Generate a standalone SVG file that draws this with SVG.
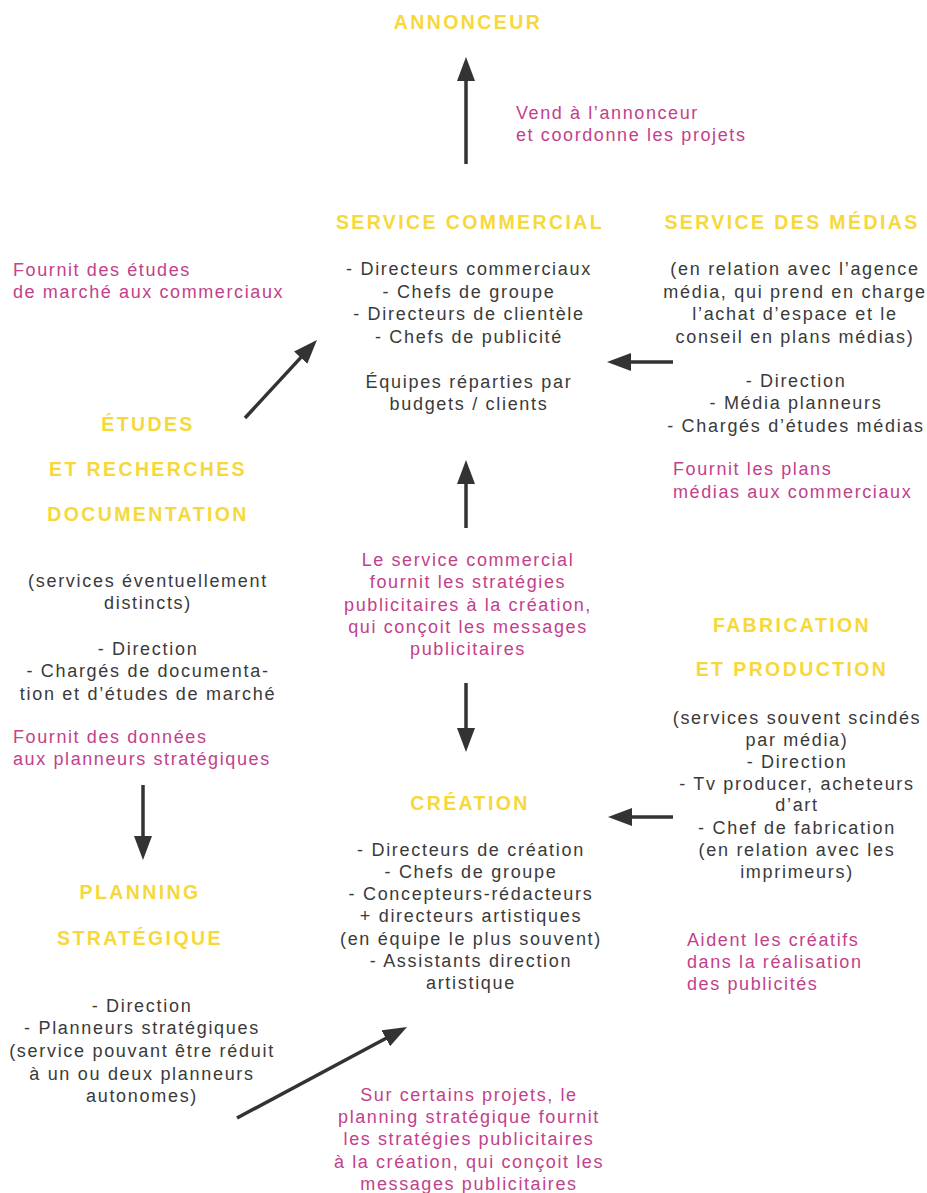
<svg xmlns="http://www.w3.org/2000/svg" width="927" height="1193" viewBox="0 0 927 1193">
<style>
text{font-family:"Liberation Sans",Arial,sans-serif}
.h{font-size:19.5px;font-weight:bold;fill:#f7d83a;letter-spacing:2.4px;text-anchor:middle}
.b{font-size:18px;fill:#3a3a3a;letter-spacing:1.7px;text-anchor:middle}
.m{font-size:18px;fill:#c2418b;letter-spacing:1.6px}
.mc{text-anchor:middle}
.ar{stroke:#333;stroke-width:3.5;fill:none;marker-end:url(#ah)}
</style>
<defs>
<marker id="ah" markerUnits="userSpaceOnUse" markerWidth="24" markerHeight="18" refX="13" refY="9" orient="auto" viewBox="0 0 24 18">
<path d="M0,0 L24,9 L0,18 z" fill="#333"/>
</marker>
</defs>
<rect width="927" height="1193" fill="#fff"/>

<g id="annonceur">
<text class="h" x="468" y="29">ANNONCEUR</text>
</g>

<g id="service-commercial">
<text class="h" x="470" y="229">SERVICE COMMERCIAL</text>
<text class="b" x="469" y="275">- Directeurs commerciaux</text>
<text class="b" x="469" y="298">- Chefs de groupe</text>
<text class="b" x="469" y="320">- Directeurs de clientèle</text>
<text class="b" x="469" y="343">- Chefs de publicité</text>
<text class="b" x="469" y="388">Équipes réparties par</text>
<text class="b" x="469" y="410">budgets / clients</text>
</g>

<g id="service-medias">
<text class="h" x="792" y="229">SERVICE DES MÉDIAS</text>
<text class="b" x="795" y="275">(en relation avec l’agence</text>
<text class="b" x="795" y="298">média, qui prend en charge</text>
<text class="b" x="795" y="320">l’achat d’espace et le</text>
<text class="b" x="795" y="343">conseil en plans médias)</text>
<text class="b" x="796" y="387">- Direction</text>
<text class="b" x="796" y="409">- Média planneurs</text>
<text class="b" x="796" y="432">- Chargés d’études médias</text>
</g>

<g id="etudes">
<text class="h" x="148" y="431">ÉTUDES</text>
<text class="h" x="148" y="476">ET RECHERCHES</text>
<text class="h" x="148" y="521">DOCUMENTATION</text>
<text class="b" x="148" y="587">(services éventuellement</text>
<text class="b" x="148" y="609">distincts)</text>
<text class="b" x="148" y="655">- Direction</text>
<text class="b" x="148" y="677">- Chargés de documenta-</text>
<text class="b" x="148" y="700">tion et d’études de marché</text>
</g>

<g id="planning">
<text class="h" x="140" y="899">PLANNING</text>
<text class="h" x="140" y="945">STRATÉGIQUE</text>
<text class="b" x="142" y="1012">- Direction</text>
<text class="b" x="142" y="1034">- Planneurs stratégiques</text>
<text class="b" x="142" y="1057">(service pouvant être réduit</text>
<text class="b" x="142" y="1080">à un ou deux planneurs</text>
<text class="b" x="142" y="1102">autonomes)</text>
</g>

<g id="creation">
<text class="h" x="470" y="810">CRÉATION</text>
<text class="b" x="471" y="856">- Directeurs de création</text>
<text class="b" x="471" y="878">- Chefs de groupe</text>
<text class="b" x="471" y="900">- Concepteurs-rédacteurs</text>
<text class="b" x="471" y="922">+ directeurs artistiques</text>
<text class="b" x="471" y="945">(en équipe le plus souvent)</text>
<text class="b" x="471" y="967">- Assistants direction</text>
<text class="b" x="471" y="989">artistique</text>
</g>

<g id="fabrication">
<text class="h" x="792" y="632">FABRICATION</text>
<text class="h" x="792" y="676">ET PRODUCTION</text>
<text class="b" x="797" y="724">(services souvent scindés</text>
<text class="b" x="797" y="746">par média)</text>
<text class="b" x="797" y="768">- Direction</text>
<text class="b" x="797" y="790">- Tv producer, acheteurs</text>
<text class="b" x="797" y="811">d’art</text>
<text class="b" x="797" y="834">- Chef de fabrication</text>
<text class="b" x="797" y="856">(en relation avec les</text>
<text class="b" x="797" y="878">imprimeurs)</text>
</g>

<g id="connectors">
<line class="ar" x1="466" y1="164" x2="466" y2="68"/>
<line class="ar" x1="673" y1="362" x2="618" y2="362"/>
<line class="ar" x1="245" y1="418" x2="309.5" y2="348.1"/>
<line class="ar" x1="143" y1="785" x2="143" y2="849"/>
<line class="ar" x1="466" y1="528" x2="466" y2="471"/>
<line class="ar" x1="466" y1="683" x2="466" y2="741"/>
<line class="ar" x1="673" y1="817" x2="619" y2="817"/>
<line class="ar" x1="237" y1="1118" x2="397.3" y2="1032.2"/>
</g>

<g id="labels">
<text class="m" x="516" y="119">Vend à l’annonceur</text>
<text class="m" x="516" y="141">et coordonne les projets</text>
<text class="m" x="13" y="276">Fournit des études</text>
<text class="m" x="13" y="298">de marché aux commerciaux</text>
<text class="m" x="673" y="475">Fournit les plans</text>
<text class="m" x="673" y="498">médias aux commerciaux</text>
<text class="m" x="13" y="743">Fournit des données</text>
<text class="m" x="13" y="765">aux planneurs stratégiques</text>
<text class="m mc" x="468" y="566">Le service commercial</text>
<text class="m mc" x="468" y="588">fournit les stratégies</text>
<text class="m mc" x="468" y="611">publicitaires à la création,</text>
<text class="m mc" x="468" y="633">qui conçoit les messages</text>
<text class="m mc" x="468" y="655">publicitaires</text>
<text class="m" x="687" y="946">Aident les créatifs</text>
<text class="m" x="687" y="968">dans la réalisation</text>
<text class="m" x="687" y="990">des publicités</text>
<text class="m mc" x="469" y="1101">Sur certains projets, le</text>
<text class="m mc" x="469" y="1123">planning stratégique fournit</text>
<text class="m mc" x="469" y="1145">les stratégies publicitaires</text>
<text class="m mc" x="469" y="1168">à la création, qui conçoit les</text>
<text class="m mc" x="469" y="1190">messages publicitaires</text>
</g>
</svg>
